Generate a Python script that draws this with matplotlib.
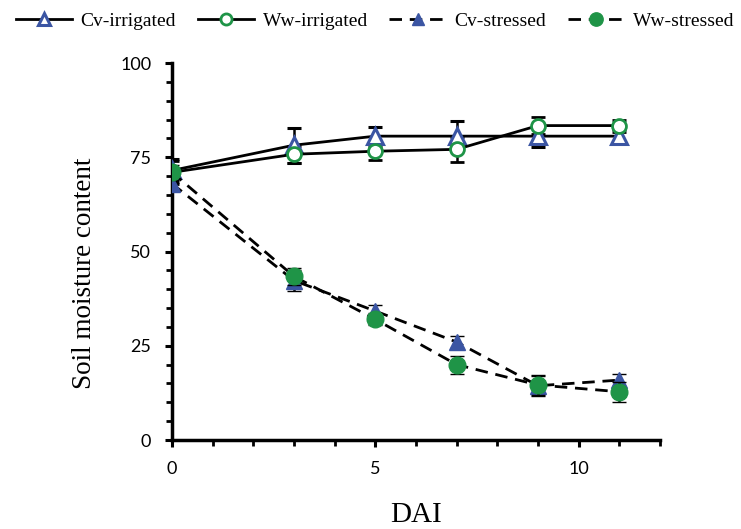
import matplotlib
matplotlib.use("Agg")
import matplotlib.pyplot as plt
from matplotlib.ticker import MultipleLocator

# Days after irrigation treatment
dai = [0, 3, 5, 7, 9, 11]

cv_irrigated = [71.5, 78.2, 80.6, 80.6, 80.6, 80.6]
cv_irrigated_err = [3.0, 4.6, 2.5, 4.0, 2.9, 1.9]
ww_irrigated = [71.0, 75.8, 76.6, 77.1, 83.4, 83.4]
ww_irrigated_err = [3.0, 2.3, 2.2, 3.3, 2.3, 1.6]
cv_stressed = [68.0, 42.3, 34.2, 26.0, 14.4, 15.9]
cv_stressed_err = [2.0, 2.8, 1.6, 1.6, 2.7, 1.6]
ww_stressed = [71.0, 43.4, 32.0, 20.0, 14.6, 12.8]
ww_stressed_err = [2.0, 2.3, 1.6, 2.4, 2.7, 2.6]

labels = ["Cv-irrigated", "Ww-irrigated", "Cv-stressed", "Ww-stressed"]

blue = "#3b55a3"
green = "#1f9447"

fig = plt.figure(figsize=(7.41, 5.29), dpi=100)
ax = fig.add_axes([0.2321, 0.1682, 0.6586, 0.7127])

common = dict(color="black", lw=2.0, ecolor="black", elinewidth=1.8,
              capsize=5, capthick=2.2, markersize=11)
dash = (0, (4.5, 2.8))

h1 = ax.errorbar(dai, cv_irrigated, yerr=cv_irrigated_err, ls="-", marker="^",
                 mfc="white", mec=blue, mew=2.2, zorder=3, **common)
h2 = ax.errorbar(dai, ww_irrigated, yerr=ww_irrigated_err, ls="-", marker="o",
                 mfc="white", mec=green, mew=2.0, zorder=3,
                 **{**common, "markersize": 10})
h3 = ax.errorbar(dai, cv_stressed, yerr=cv_stressed_err, ls=dash, marker="^",
                 mfc=blue, mec=blue, mew=1.0, zorder=4, **common)
h4 = ax.errorbar(dai, ww_stressed, yerr=ww_stressed_err, ls=dash, marker="o",
                 mfc=green, mec=green, mew=1.0, zorder=5,
                 **{**common, "markersize": 12})

ax.set_xlim(0, 12)
ax.set_ylim(0, 100)
ax.xaxis.set_major_locator(MultipleLocator(5))
ax.xaxis.set_minor_locator(MultipleLocator(1))
ax.yaxis.set_major_locator(MultipleLocator(25))
ax.yaxis.set_minor_locator(MultipleLocator(5))

for s in ["top", "right"]:
    ax.spines[s].set_visible(False)
for s in ["left", "bottom"]:
    ax.spines[s].set_linewidth(2.5)

ax.tick_params(axis="both", which="major", direction="out", length=5, width=2.2,
               labelsize=13, pad=10)
ax.tick_params(axis="both", which="minor", direction="out", length=4, width=2.0)
for lab in ax.get_xticklabels() + ax.get_yticklabels():
    lab.set_fontfamily("Lato")

ax.set_xlabel("DAI", family="Liberation Serif", fontsize=21)
ax.xaxis.set_label_coords(0.5, -0.199)
ax.xaxis.label.set_va("center")
ax.set_ylabel("Soil moisture content", family="Liberation Serif", fontsize=19.5)
ax.yaxis.set_label_coords(-0.180, 0.443)
ax.yaxis.label.set_va("center")

handles = [h1[0], h2[0], h3[0], h4[0]]
fig.legend(handles=handles, labels=labels, loc="upper center",
           bbox_to_anchor=(0.506, 1.01), ncol=4, frameon=False,
           prop={"family": "Liberation Serif", "size": 14},
           handlelength=2.9, columnspacing=1.1, handletextpad=0.45,
           markerscale=0.8)

fig.savefig("out.png", dpi=100)
